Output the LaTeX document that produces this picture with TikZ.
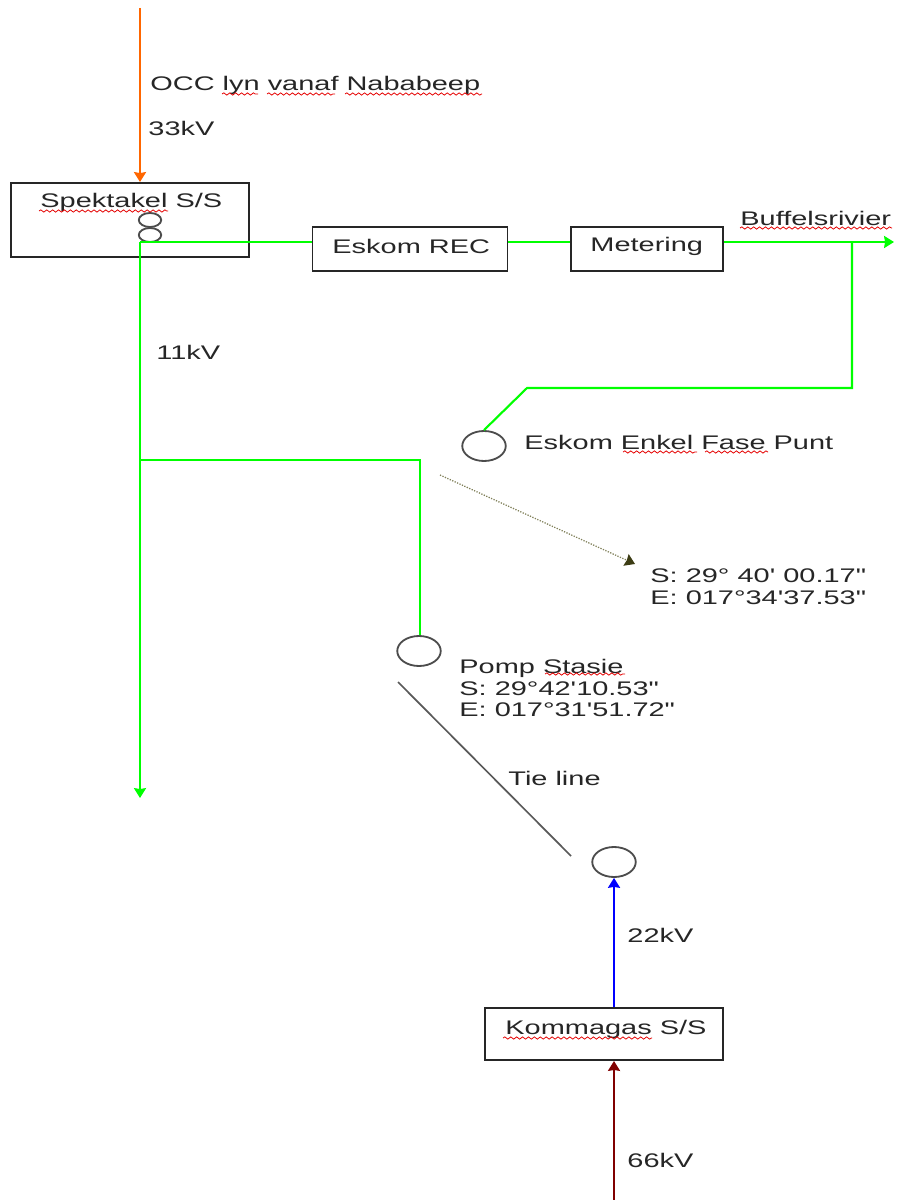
\documentclass[tikz,border=0pt]{standalone}
\usepackage{fontspec}
\setmainfont{Liberation Sans}[Ligatures=TeXOff]
\usetikzlibrary{arrows.meta,decorations.pathmorphing}
\definecolor{feedgreen}{RGB}{0,255,0}
\definecolor{occorange}{RGB}{255,102,0}
\definecolor{gpsolive}{RGB}{128,128,90}
\definecolor{gpshead}{RGB}{60,60,20}
\tikzset{
  lbl/.style={font=\fontsize{14}{15.6}\selectfont, text=black!85, inner sep=0pt, anchor=west, align=left, xscale=1.47, transform shape},
  box/.style={draw=black!85, line width=1.4pt, fill=white, minimum width=#1*0.025cm},
  ring/.style={draw=black!70, line width=1.3pt, circle, inner sep=0pt},
  green line/.style={draw=feedgreen, line width=1.5pt},
  squig/.style={draw=red!90!black, line width=0.55pt, decorate, decoration={snake, amplitude=0.8pt, segment length=4.2pt}}
}
\begin{document}
\begin{tikzpicture}[x=0.025cm, y=-0.025cm, >={Stealth[length=7pt,width=8.5pt,inset=0.6pt]}]
\useasboundingbox (0,0) rectangle (897,1200);
% boxes
\node[box=238, minimum height=74*0.025cm] (spektakel) at (130,220) {};
\node[box=195, minimum height=44*0.025cm] (eskom) at (410,249) {};
\node[box=152, minimum height=44*0.025cm] (metering) at (647,249) {};
\node[box=238, minimum height=52*0.025cm] (kommagas) at (604,1034) {};
% rings
\node[ring, minimum size=14*0.025cm, xscale=1.6] (ringa) at (150,220) {};
\node[ring, minimum size=14*0.025cm, xscale=1.6] (ringb) at (150,235) {};
\node[ring, minimum size=30*0.025cm, xscale=1.45] (enkel) at (484,446) {};
\node[ring, minimum size=30*0.025cm, xscale=1.45] (pomp) at (419,651) {};
\node[ring, minimum size=30*0.025cm, xscale=1.45] (tie) at (614,862) {};
% free ends
\coordinate (occ) at (140,8);
\coordinate (busbar) at (140,242);
\coordinate (buffels) at (894,242);
\coordinate (tap) at (852,242);
\coordinate (tee) at (140,460);
\coordinate (south) at (140,798);
\coordinate (bend) at (527,388);
\coordinate (corner) at (420,460);
\coordinate (tiea) at (398,682);
\coordinate (tieb) at (571,856);
\coordinate (gpsa) at (440,475);
\coordinate (gpsb) at (635,564);
\coordinate (bottom) at (614,1200);
% feeders
\draw[->, occorange, line width=1.8pt] (occ) -- (occ |- spektakel.north);
\draw[green line] (busbar) -- (eskom.west |- busbar);
\draw[green line] (eskom.east |- busbar) -- (metering.west |- busbar);
\draw[green line, ->] (metering.east |- buffels) -- (buffels);
\draw[green line, ->] (busbar) -- (south);
\draw[green line] (tap) -- (852,388) -- (bend) -- (enkel.north);
\draw[green line] (tee) -- (corner) -- (corner |- pomp.north);
\draw[black!65, line width=1.2pt] (tiea) -- (tieb);
\draw[-{Stealth[length=7pt,width=9pt,inset=0.6pt,gpshead]}, gpsolive, densely dotted, line width=0.9pt] (gpsa) -- (gpsb);
\draw[->, blue, line width=1.5pt] (kommagas.north -| tie) -- (tie.south);
\draw[->, red!50!black, line width=1.5pt] (bottom) -- (bottom |- kommagas.south);
% labels
\node[lbl] (occlbl) at (150,85) {OCC lyn vanaf Nababeep};
\node[lbl] (kvthree) at (148,128) {33kV};
\node[lbl] (spektxt) at (40,202) {Spektakel S/S};
\node[lbl] (eskomtxt) at (332,246) {Eskom REC};
\node[lbl] (metertxt) at (590,246) {Metering};
\node[lbl] (buffeltxt) at (740,218) {Buffelsrivier};
\node[lbl] (kvele) at (156,352) {11kV};
\node[lbl] (enkeltxt) at (524,442) {Eskom Enkel Fase Punt};
\node[lbl] (gpstxt) at (650,587) {S: 29° 40' 00.17"\\E: 017°34'37.53"};
\node[lbl] (pomptxt) at (459,688) {Pomp Stasie\\S: 29°42'10.53"\\E: 017°31'51.72"};
\node[lbl] (tietxt) at (508,778) {Tie line};
\node[lbl] (kvtwo) at (627,935) {22kV};
\node[lbl] (kommtxt) at (505,1029) {Kommagas S/S};
\node[lbl] (kvsix) at (627,1160) {66kV};
% spelling marks
\foreach \xa/\xb/\ya in {222/258/94, 267/335/94, 345/482/94, 39/168/211, 740/892/228, 623/697/452, 705/768/452, 545/625/674, 503/652/1038}
  \draw[squig] (\xa,\ya) -- (\xb,\ya);
\end{tikzpicture}
\end{document}
